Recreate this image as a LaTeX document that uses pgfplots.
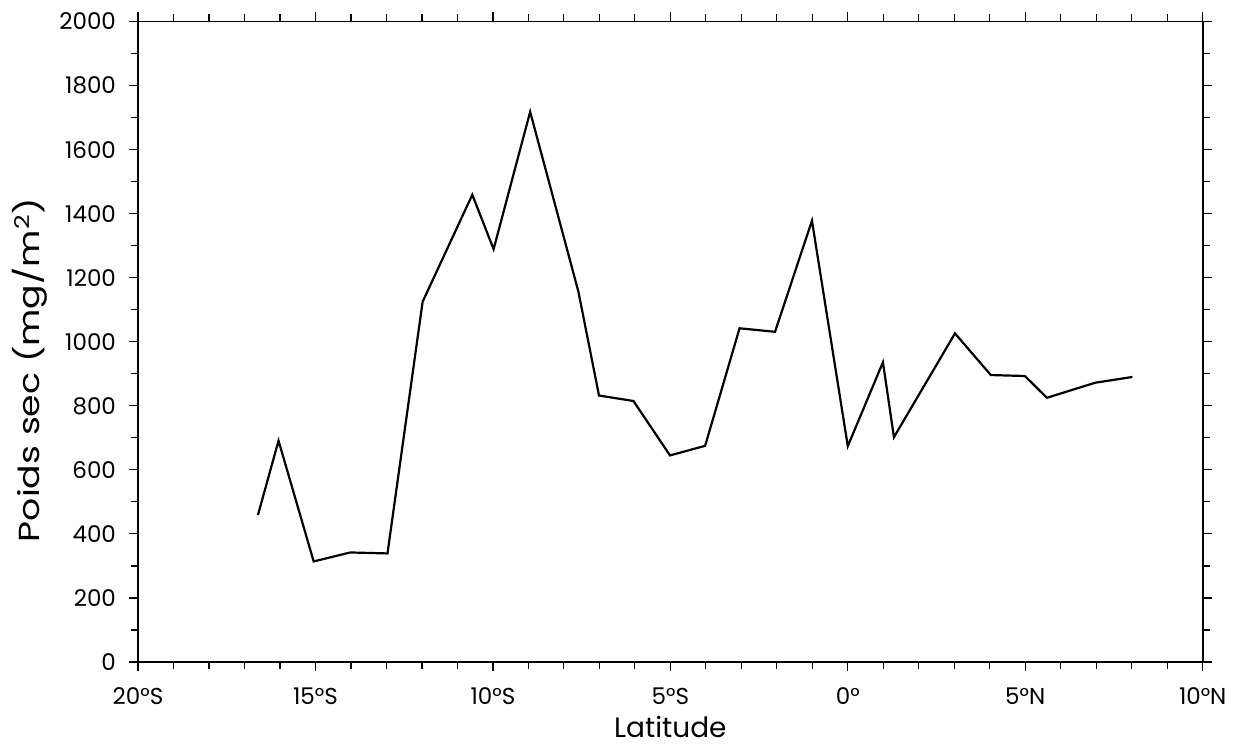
\documentclass[border=0pt]{standalone}
\usepackage{fontspec}
\setmainfont{Poppins}
\usepackage{graphicx}
\usepackage{pgfplots}
\pgfplotsset{compat=1.18}
\begin{document}
\begin{tikzpicture}
\begin{axis}[
  scale only axis,
  width=532.35pt, height=320.25pt,
  xmin=-20, xmax=10, ymin=0, ymax=2000,
  xtick={-20,-15,-10,-5,0,5,10},
  xticklabels={20°S,15°S,10°S,5°S,0°,5°N,10°N},
  minor x tick num=4,
  ytick={0,200,...,2000},
  minor y tick num=1,
  tick align=outside,
  major tick length=4.5pt,
  minor tick length=3.5pt,
  axis line style={line width=0.8pt},
  every tick/.style={black, line width=0.6pt},
  /pgf/number format/assume math mode=true,
  /pgf/number format/1000 sep={},
  tick label style={font=\fontsize{11.5}{13}\selectfont},
  xticklabel style={yshift=-5pt},
  yticklabel style={xshift=-3pt},
  xlabel={Latitude},
  ylabel={\scalebox{1.25}[1]{Poids sec (mg/m\textsuperscript{2})}},
  label style={font=\fontsize{14}{16}\selectfont},
  xlabel style={at={(axis description cs:0.5,0)}, anchor=center, yshift=-32.5pt},
  ylabel style={at={(axis description cs:-0.1014,0.456)}, anchor=center, font=\fontsize{14.5}{16}\selectfont},
]
\addplot[black, line width=1.1pt, mark=none] coordinates {
(-16.62,459) (-16.04,691) (-15.05,314) (-14.02,342) (-12.97,339)
(-11.98,1125) (-10.58,1459) (-9.98,1289) (-8.95,1718) (-7.59,1156)
(-7.01,832) (-6.04,815) (-5.01,645) (-4.02,675) (-3.05,1042)
(-2.05,1031) (-1.01,1378) (0.00,674) (0.99,936) (1.30,702)
(3.02,1026) (4.03,896) (4.99,893) (5.61,825) (6.97,872) (8.02,890)
};
\end{axis}
\pgfresetboundingbox
\path[use as bounding box] (-69pt,-43pt) rectangle (552pt,331pt);
\end{tikzpicture}
\end{document}
